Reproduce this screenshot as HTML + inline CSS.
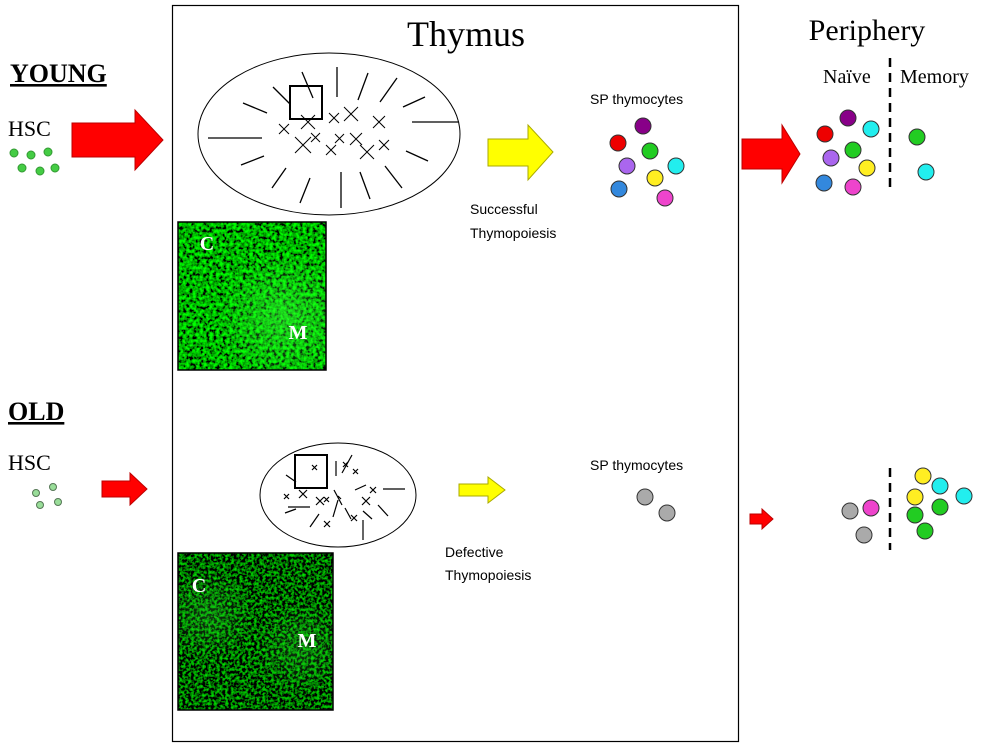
<!DOCTYPE html>
<html><head><meta charset="utf-8"><style>
html,body{margin:0;padding:0;background:#fff;}
svg{display:block;}
.s{font-family:"Liberation Serif",serif;}
.a{font-family:"Liberation Sans",sans-serif;}
</style></head><body>
<svg width="992" height="748" viewBox="0 0 992 748" xmlns="http://www.w3.org/2000/svg">
<defs>
<filter id="g1" x="0" y="0" width="100%" height="100%">
<feTurbulence type="fractalNoise" baseFrequency="0.3" numOctaves="2" seed="3"/>
<feColorMatrix type="matrix" values="0 0 0 0 0  0 0 0 2.4 -0.75  0 0 0 0 0  0 0 0 0 1"/>
</filter>
<filter id="g2" x="0" y="0" width="100%" height="100%">
<feTurbulence type="fractalNoise" baseFrequency="0.35" numOctaves="2" seed="7"/>
<feColorMatrix type="matrix" values="0 0 0 0 0  0 0 0 1.8 -0.75  0 0 0 0 0  0 0 0 0 1"/>
</filter>
<radialGradient id="m1" cx="0.72" cy="0.65" r="0.45"><stop offset="0" stop-color="#4f4" stop-opacity="0.45"/><stop offset="1" stop-color="#4f4" stop-opacity="0"/></radialGradient>
<radialGradient id="m2" cx="0.2" cy="0.4" r="0.3"><stop offset="0" stop-color="#3c3" stop-opacity="0.3"/><stop offset="1" stop-color="#3c3" stop-opacity="0"/></radialGradient>
<radialGradient id="m3" cx="0.8" cy="0.6" r="0.3"><stop offset="0" stop-color="#3c3" stop-opacity="0.3"/><stop offset="1" stop-color="#3c3" stop-opacity="0"/></radialGradient>
</defs>
<rect x="172.5" y="5.5" width="566" height="736" fill="none" stroke="#000" stroke-width="1.2"/>
<text x="466" y="46" class="s" font-size="36" text-anchor="middle">Thymus</text>
<text x="867" y="40" class="s" font-size="30" text-anchor="middle">Periphery</text>
<text x="823" y="83" class="s" font-size="20">Naïve</text>
<text x="900" y="83" class="s" font-size="20">Memory</text>
<line x1="890" y1="58" x2="890" y2="192" stroke="#000" stroke-width="2.5" stroke-dasharray="9,6"/>
<line x1="890" y1="468" x2="890" y2="550" stroke="#000" stroke-width="2.5" stroke-dasharray="9,6"/>

<text x="10" y="82" class="s" font-size="26" font-weight="bold" text-decoration="underline">YOUNG</text>
<text x="8" y="136" class="s" font-size="22">HSC</text>
<g fill="#4c4" stroke="#393" stroke-width="1">
<circle cx="14" cy="153" r="4"/><circle cx="31" cy="155" r="4"/><circle cx="48" cy="152" r="4"/>
<circle cx="22" cy="168" r="4"/><circle cx="40" cy="171" r="4"/><circle cx="55" cy="168" r="4"/>
</g>
<polygon points="72,123 135,123 135,110 163,140 135,170 135,157 72,157" fill="#f00" stroke="#b00"/>

<text x="8" y="420" class="s" font-size="26" font-weight="bold" text-decoration="underline">OLD</text>
<text x="8" y="470" class="s" font-size="22">HSC</text>
<g fill="#9d9" stroke="#575" stroke-width="1">
<circle cx="36" cy="493" r="3.5"/><circle cx="53" cy="487" r="3.5"/><circle cx="40" cy="505" r="3.5"/><circle cx="58" cy="502" r="3.5"/>
</g>
<polygon points="102,481 130,481 130,473 147,489 130,505 130,497 102,497" fill="#f00" stroke="#b00"/>

<ellipse cx="329" cy="134" rx="131" ry="81" fill="none" stroke="#000" stroke-width="1"/>
<g stroke="#000" stroke-width="1.3">
<line x1="208" y1="138" x2="262" y2="138"/><line x1="243" y1="103" x2="267" y2="113"/>
<line x1="241" y1="165" x2="264" y2="156"/><line x1="273" y1="87" x2="290" y2="104"/>
<line x1="302" y1="72" x2="313" y2="98"/><line x1="337" y1="67" x2="337" y2="97"/>
<line x1="368" y1="73" x2="358" y2="100"/><line x1="397" y1="78" x2="380" y2="102"/>
<line x1="425" y1="97" x2="403" y2="107"/><line x1="412" y1="122" x2="459" y2="122"/>
<line x1="406" y1="151" x2="428" y2="161"/><line x1="272" y1="188" x2="286" y2="168"/>
<line x1="300" y1="203" x2="310" y2="178"/><line x1="341" y1="208" x2="341" y2="172"/>
<line x1="370" y1="199" x2="360" y2="172"/><line x1="402" y1="188" x2="385" y2="166"/>
</g>
<g stroke="#000" stroke-width="1" fill="none">
<path d="M279,124l10,10m0,-10l-10,10"/><path d="M301,115l14,14m0,-14l-14,14"/>
<path d="M329,113l10,10m0,-10l-10,10"/><path d="M344,107l14,14m0,-14l-14,14"/>
<path d="M373,116l12,12m0,-12l-12,12"/><path d="M295,137l16,16m0,-16l-16,16"/>
<path d="M311,133l9,9m0,-9l-9,9"/><path d="M335,134l9,9m0,-9l-9,9"/>
<path d="M350,133l12,12m0,-12l-12,12"/><path d="M326,145l10,10m0,-10l-10,10"/>
<path d="M360,145l14,14m0,-14l-14,14"/><path d="M379,140l10,10m0,-10l-10,10"/>
</g>
<rect x="290" y="86" width="32" height="33" fill="none" stroke="#000" stroke-width="2"/>

<rect x="178" y="222" width="148" height="148" fill="#041"/>
<rect x="178" y="222" width="148" height="148" filter="url(#g1)"/>
<rect x="178" y="222" width="148" height="148" fill="url(#m1)"/>
<rect x="178" y="222" width="148" height="148" fill="none" stroke="#000" stroke-width="1.5"/>
<text x="207" y="250" class="s" font-size="20" font-weight="bold" fill="#fff" text-anchor="middle">C</text>
<text x="298" y="339" class="s" font-size="20" font-weight="bold" fill="#fff" text-anchor="middle">M</text>

<ellipse cx="338" cy="495" rx="78" ry="52" fill="none" stroke="#000" stroke-width="1"/>
<g stroke="#000" stroke-width="1.2" fill="none">
<line x1="336" y1="461" x2="336" y2="476"/><line x1="352" y1="455" x2="342" y2="473"/>
<line x1="383" y1="489" x2="405" y2="489"/><line x1="355" y1="490" x2="366" y2="485"/>
<line x1="288" y1="507" x2="310" y2="507"/><line x1="285" y1="513" x2="296" y2="509"/>
<line x1="310" y1="527" x2="319" y2="514"/><line x1="333" y1="517" x2="338" y2="500"/>
<line x1="345" y1="508" x2="351" y2="519"/><line x1="363" y1="511" x2="372" y2="519"/>
<line x1="378" y1="505" x2="388" y2="516"/><line x1="363" y1="520" x2="363" y2="540"/>
<line x1="342" y1="505" x2="334" y2="490"/><line x1="286" y1="475" x2="296" y2="482"/>
<path d="M343,462l5,5m0,-5l-5,5"/><path d="M353,469l5,5m0,-5l-5,5"/><path d="M312,465l5,5m0,-5l-5,5"/>
<path d="M284,494l5,5m0,-5l-5,5"/><path d="M299,490l8,8m0,-8l-8,8"/><path d="M316,497l8,8m0,-8l-8,8"/>
<path d="M324,497l5,5m0,-5l-5,5"/><path d="M338,496l3,3"/><path d="M370,487l6,6m0,-6l-6,6"/>
<path d="M362,497l8,8m0,-8l-8,8"/><path d="M351,515l6,6m0,-6l-6,6"/><path d="M324,521l6,6m0,-6l-6,6"/>
</g>
<rect x="295" y="455" width="32" height="33" fill="none" stroke="#000" stroke-width="2"/>

<rect x="178" y="553" width="155" height="157" fill="#021"/>
<rect x="178" y="553" width="155" height="157" filter="url(#g2)"/>
<rect x="178" y="553" width="155" height="157" fill="url(#m2)"/>
<rect x="178" y="553" width="155" height="157" fill="url(#m3)"/>
<rect x="178" y="553" width="155" height="157" fill="none" stroke="#000" stroke-width="1.5"/>
<text x="199" y="592" class="s" font-size="20" font-weight="bold" fill="#fff" text-anchor="middle">C</text>
<text x="307" y="647" class="s" font-size="20" font-weight="bold" fill="#fff" text-anchor="middle">M</text>

<polygon points="488,139 528,139 528,125 553,152 528,180 528,166 488,166" fill="#ff0" stroke="#aa0"/>
<polygon points="459,484 488,484 488,477 505,490 488,503 488,496 459,496" fill="#ff0" stroke="#aa0"/>
<text x="470" y="214" class="a" font-size="14">Successful</text>
<text x="470" y="238" class="a" font-size="14">Thymopoiesis</text>
<text x="445" y="557" class="a" font-size="14">Defective</text>
<text x="445" y="580" class="a" font-size="14">Thymopoiesis</text>
<text x="590" y="104" class="a" font-size="14">SP thymocytes</text>
<text x="590" y="470" class="a" font-size="14">SP thymocytes</text>

<polygon points="742,139 782,139 782,125 800,154 782,183 782,169 742,169" fill="#f00" stroke="#b00"/>
<polygon points="750,514 762,514 762,509 773,519 762,529 762,524 750,524" fill="#f00" stroke="#b00"/>

<g stroke="#333" stroke-width="1">
<circle cx="618" cy="143" r="8" fill="#e00"/><circle cx="643" cy="126" r="8" fill="#808"/>
<circle cx="650" cy="151" r="8" fill="#2c2"/><circle cx="627" cy="166" r="8" fill="#a6e"/>
<circle cx="676" cy="166" r="8" fill="#2ee"/><circle cx="655" cy="178" r="8" fill="#fe2"/>
<circle cx="619" cy="189" r="8" fill="#38d"/><circle cx="665" cy="198" r="8" fill="#e4c"/>

<circle cx="825" cy="134" r="8" fill="#e00"/><circle cx="848" cy="118" r="8" fill="#808"/>
<circle cx="871" cy="129" r="8" fill="#2ee"/><circle cx="853" cy="150" r="8" fill="#2c2"/>
<circle cx="831" cy="158" r="8" fill="#a6e"/><circle cx="867" cy="168" r="8" fill="#fe2"/>
<circle cx="824" cy="183" r="8" fill="#38d"/><circle cx="853" cy="187" r="8" fill="#e4c"/>
<circle cx="917" cy="137" r="8" fill="#2c2"/><circle cx="926" cy="172" r="8" fill="#2ee"/>

<circle cx="645" cy="497" r="8" fill="#aaa"/><circle cx="667" cy="513" r="8" fill="#aaa"/>
<circle cx="850" cy="511" r="8" fill="#aaa"/><circle cx="864" cy="535" r="8" fill="#aaa"/>
<circle cx="871" cy="508" r="8" fill="#e4c"/>
<circle cx="923" cy="476" r="8" fill="#fe2"/><circle cx="915" cy="497" r="8" fill="#fe2"/>
<circle cx="940" cy="486" r="8" fill="#2ee"/><circle cx="964" cy="496" r="8" fill="#2ee"/>
<circle cx="940" cy="507" r="8" fill="#2c2"/><circle cx="915" cy="515" r="8" fill="#2c2"/>
<circle cx="925" cy="531" r="8" fill="#2c2"/>
</g>
</svg>
</body></html>
